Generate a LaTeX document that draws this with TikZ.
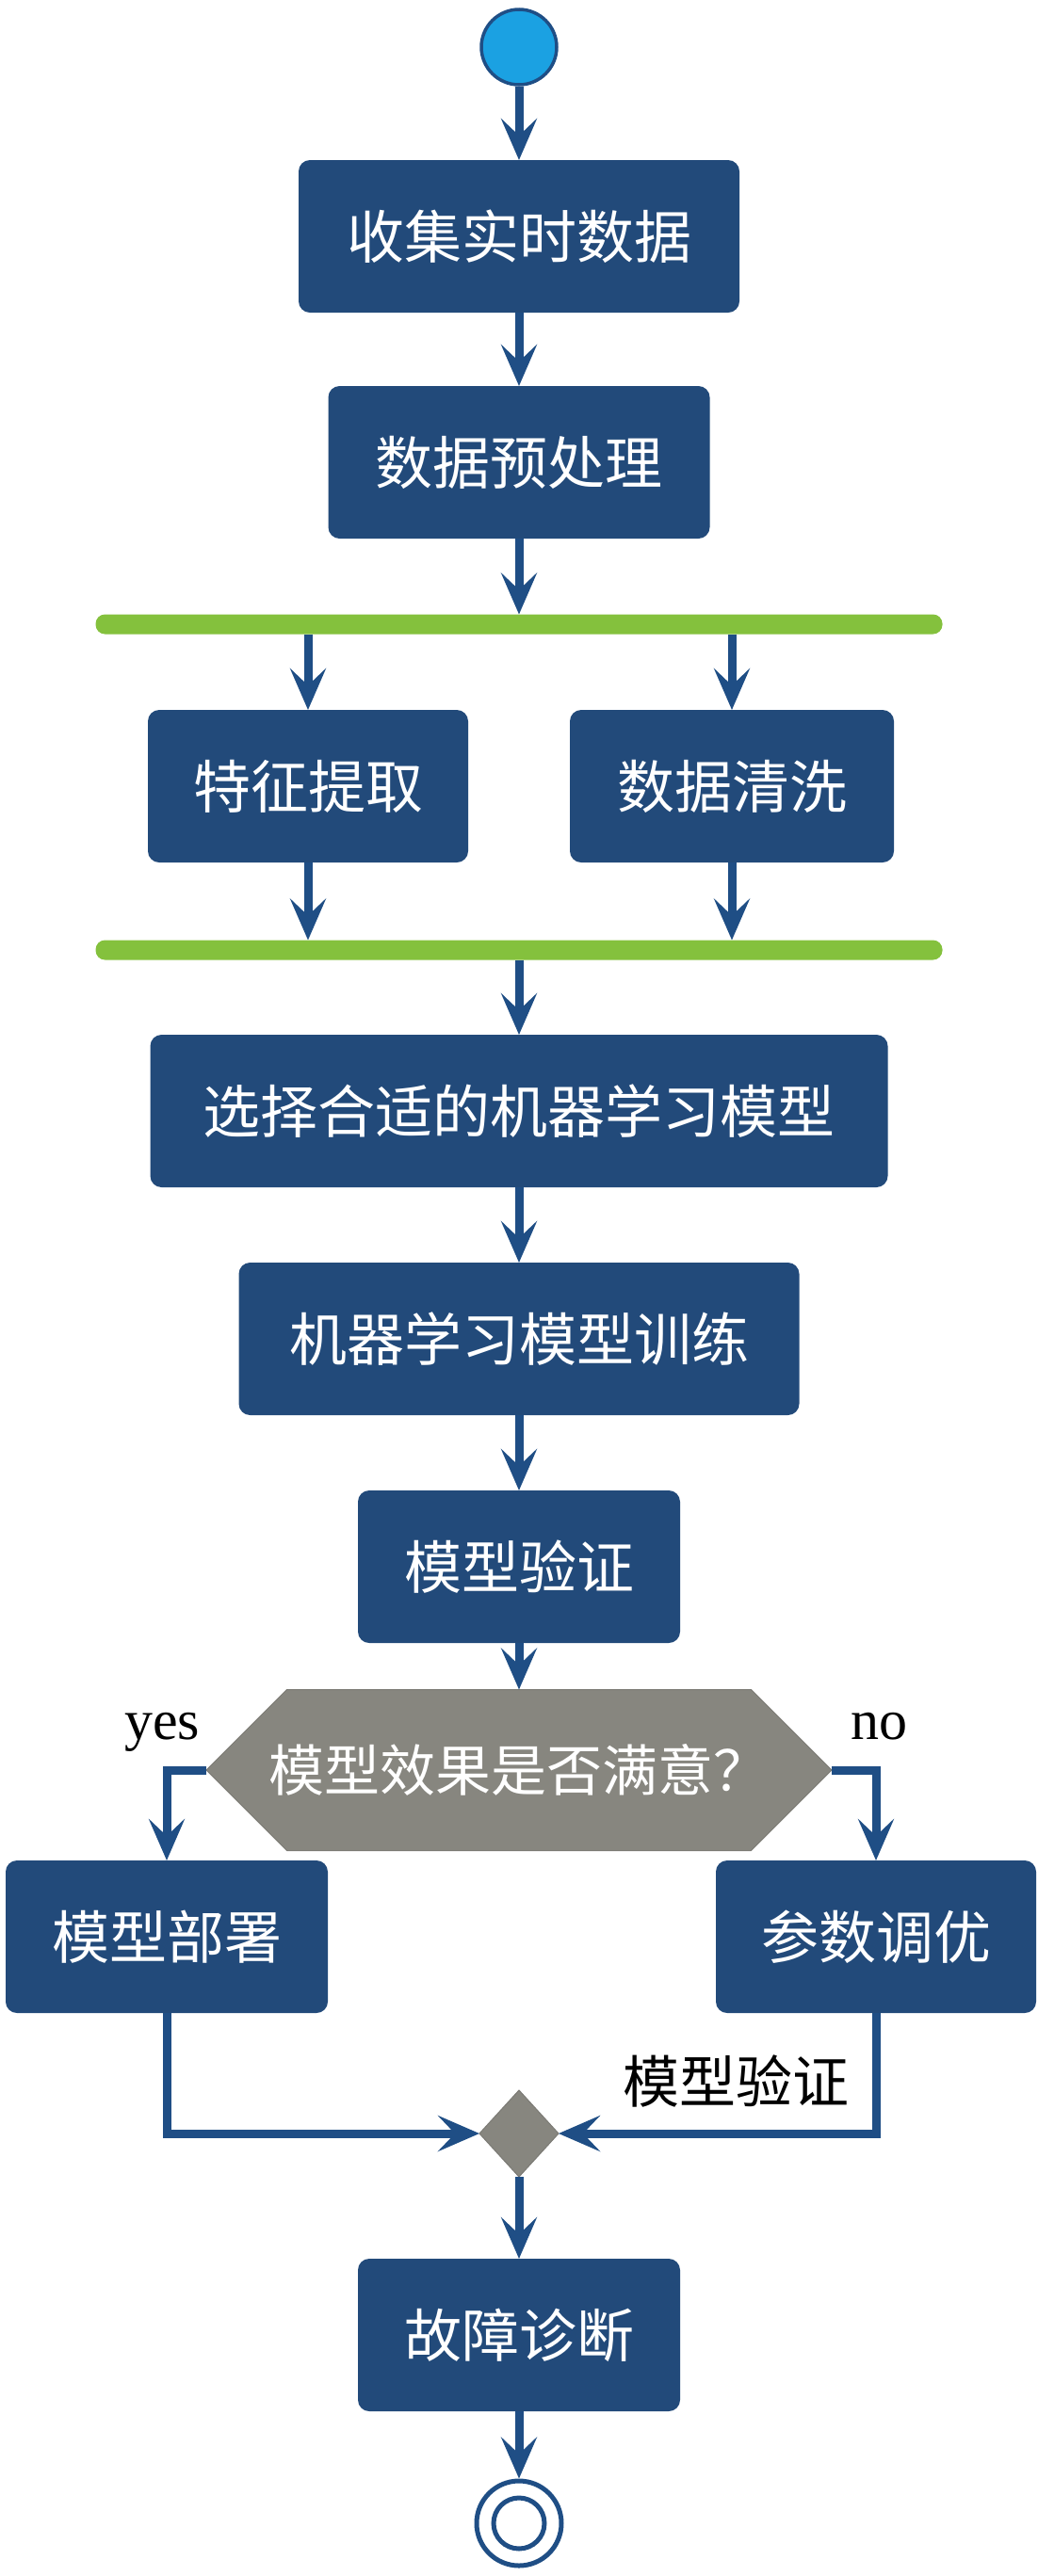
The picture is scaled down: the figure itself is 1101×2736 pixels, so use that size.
\documentclass[tikz,border=0pt]{standalone}
\definecolor{boxblue}{RGB}{34, 74, 122}
\definecolor{lineblue}{RGB}{31, 78, 133}
\definecolor{startblue}{RGB}{27, 161, 226}
\definecolor{gategrey}{RGB}{135, 134, 127}
\definecolor{bargreen}{RGB}{132, 193, 61}
\usepackage{fontspec}
\setmainfont{Liberation Serif}
\newfontfamily\cjk{Noto Sans CJK SC}
\usepackage{tikz}
\usetikzlibrary{shapes.geometric, shapes.misc, arrows.meta, positioning}

\begin{document}
\begin{tikzpicture}[x=1pt, y=-1pt,
  act/.style={fill=boxblue, rounded corners=12pt, minimum height=162pt, inner sep=0pt, outer sep=0pt, text=white, font=\cjk\fontsize{61}{63}\selectfont},
  bar/.style={fill=bargreen, rounded corners=10pt, minimum width=899pt, minimum height=21pt, inner sep=0pt, outer sep=0pt},
  gate/.style={fill=gategrey, draw=gategrey!92!black, line width=1pt, inner sep=0pt, outer sep=0pt},
  flow/.style={draw=lineblue, line width=9pt, -{Stealth[length=44pt, width=38pt, inset=18pt]}},
  lbl/.style={font=\fontsize{60}{60}\selectfont, inner sep=0pt}
]
  \useasboundingbox (0,0) rectangle (1101,2736);

  \node[circle, fill=startblue, draw=lineblue, line width=3.5pt, minimum size=80pt, inner sep=0pt] (start) at (551, 50) {};
  \node[act, minimum width=468pt] (collect) at (551, 251) {收集实时数据};
  \node[act, minimum width=405pt] (prep) at (551, 491) {数据预处理};
  \node[bar] (fork) at (551, 663) {};
  \node[act, minimum width=340pt] (feat) at (327, 835) {特征提取};
  \node[act, minimum width=344pt] (clean) at (777, 835) {数据清洗};
  \node[bar] (join) at (551, 1009) {};
  \node[act, minimum width=783pt] (choose) at (551, 1180) {选择合适的机器学习模型};
  \node[act, minimum width=595pt] (train) at (551, 1422) {机器学习模型训练};
  \node[act, minimum width=342pt] (valid) at (551, 1664) {模型验证};
  \node[gate, chamfered rectangle, chamfered rectangle xsep=43pt, chamfered rectangle ysep=58pt,
        minimum width=664pt, minimum height=116pt, text=white, font=\cjk\fontsize{59}{61}\selectfont] (ok) at (551, 1880) {模型效果是否满意？};
  \node[act, minimum width=342pt] (deploy) at (177, 2057) {模型部署};
  \node[act, minimum width=340pt] (tune) at (930, 2057) {参数调优};
  \node[gate, diamond, aspect=0.91, minimum width=84pt, minimum height=92pt] (merge) at (551, 2266) {};
  \node[act, minimum width=342pt] (diag) at (551, 2480) {故障诊断};
  \node[circle, draw=lineblue, line width=5pt, minimum size=90pt, inner sep=0pt] (stop) at (551, 2680) {};
  \draw[lineblue, line width=5pt] (stop.center) circle (27);

  \node[lbl, anchor=base] (yes) at (172, 1847) {yes};
  \node[lbl, anchor=base] (no) at (933, 1847) {no};
  \node[lbl, font=\cjk\fontsize{60}{62}\selectfont] (revalid) at (781, 2210) {模型验证};

  \draw[flow] (start) -- (collect);
  \draw[flow] (collect) -- (prep);
  \draw[flow] (prep) -- (fork);
  \draw[flow] (fork.south -| feat.north) -- (feat.north);
  \draw[flow] (fork.south -| clean.north) -- (clean.north);
  \draw[flow] (feat.south) -- (join.north -| feat.south);
  \draw[flow] (clean.south) -- (join.north -| clean.south);
  \draw[flow] (join) -- (choose);
  \draw[flow] (choose) -- (train);
  \draw[flow] (train) -- (valid);
  \draw[flow] (valid) -- (ok);
  \draw[flow] (ok.west) -| (deploy.north);
  \draw[flow] (ok.east) -| (tune.north);
  \draw[flow] (deploy.south) |- (merge.west);
  \draw[flow] (tune.south) |- (merge.east);
  \draw[flow] (merge) -- (diag);
  \draw[flow] (diag) -- (stop);
\end{tikzpicture}
\end{document}
